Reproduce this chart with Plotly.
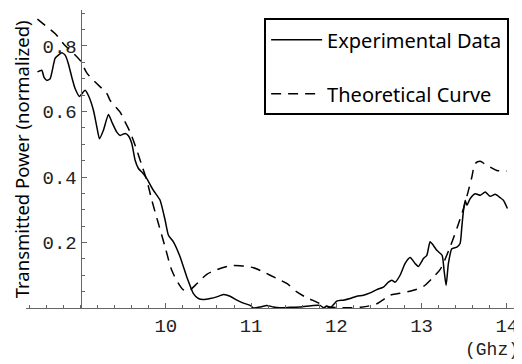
import plotly.graph_objects as go

# Experimental data (GHz, normalized power)
exp_x = [8.494, 8.545, 8.572, 8.604, 8.643, 8.701, 8.740, 8.780, 8.819, 8.857, 8.897, 8.936,
         8.987, 9.053, 9.092, 9.151, 9.191, 9.221, 9.268, 9.327, 9.367, 9.425, 9.464, 9.523,
         9.561, 9.601, 9.640, 9.679, 9.737, 9.777, 9.855, 9.933, 9.992, 10.031, 10.089, 10.168,
         10.246, 10.324, 10.382, 10.441, 10.520, 10.598, 10.676, 10.754, 10.833, 10.910, 10.989,
         11.028, 11.106, 11.185, 11.262, 11.341, 11.458, 11.575, 11.731, 11.810, 11.849, 11.889,
         11.927, 12.006, 12.083, 12.162, 12.240, 12.318, 12.397, 12.475, 12.553, 12.611, 12.651,
         12.690, 12.748, 12.807, 12.866, 12.924, 12.963, 13.022, 13.062, 13.100, 13.139, 13.179,
         13.241, 13.264, 13.288, 13.315, 13.355, 13.414, 13.452, 13.472, 13.492, 13.512, 13.532,
         13.570, 13.629, 13.688, 13.746, 13.805, 13.863, 13.922, 13.960, 14.007]
exp_y = [0.721, 0.726, 0.704, 0.695, 0.700, 0.762, 0.772, 0.779, 0.772, 0.746, 0.705, 0.670,
         0.646, 0.665, 0.649, 0.604, 0.553, 0.517, 0.543, 0.591, 0.568, 0.537, 0.527, 0.533,
         0.526, 0.502, 0.451, 0.426, 0.410, 0.395, 0.359, 0.329, 0.268, 0.222, 0.202, 0.156,
         0.095, 0.044, 0.029, 0.026, 0.029, 0.034, 0.041, 0.036, 0.024, 0.015, 0.008,
         0.000, 0.003, 0.008, 0.003, 0.001, 0.002, 0.003, 0.008, 0.008, 0.001, 0.005,
         0.000, 0.021, 0.024, 0.029, 0.036, 0.039, 0.046, 0.056, 0.064, 0.079, 0.085,
         0.079, 0.100, 0.136, 0.154, 0.136, 0.127, 0.151, 0.161, 0.202, 0.191, 0.176,
         0.161, 0.115, 0.069, 0.136, 0.181, 0.186, 0.197, 0.247, 0.298, 0.329, 0.314,
         0.334, 0.349, 0.344, 0.354, 0.341, 0.347, 0.337, 0.329, 0.304]

# Theoretical curve
th_x = [8.494, 8.584, 8.701, 8.799, 8.995, 9.073, 9.171, 9.308, 9.347, 9.464, 9.503, 9.581,
        9.660, 9.718, 9.777, 9.836, 9.913, 9.992, 10.070, 10.148, 10.203, 10.265, 10.344,
        10.481, 10.598, 10.754, 10.872, 11.028, 11.145, 11.302, 11.419, 11.537, 11.634,
        11.771, 11.849, 11.927, 12.045, 12.162, 12.279, 12.358, 12.475, 12.631, 12.728,
        12.904, 13.022, 13.139, 13.217, 13.334, 13.414, 13.492, 13.550, 13.590, 13.629,
        13.688, 13.746, 13.883, 14.000]
th_y = [0.882, 0.863, 0.838, 0.807, 0.756, 0.718, 0.690, 0.655, 0.634, 0.598, 0.578, 0.537,
        0.482, 0.436, 0.390, 0.329, 0.258, 0.186, 0.115, 0.075, 0.056, 0.052, 0.069,
        0.103, 0.117, 0.129, 0.129, 0.123, 0.110, 0.090, 0.075, 0.049, 0.034,
        0.018, 0.008, 0.003, 0.001, 0.001, 0.002, 0.005, 0.013, 0.039, 0.044,
        0.054, 0.066, 0.095, 0.117, 0.186, 0.243, 0.304, 0.359, 0.400, 0.441,
        0.448, 0.439, 0.420, 0.418]

x_ticks = [10, 11, 12, 13, 14]
y_ticks = [0.2, 0.4, 0.6, 0.8]
legend_names = ["Experimental Data", "Theoretical Curve"]

XMIN, XMAX = 8.36, 14.143
YMIN, YMAX = 0.0, 0.9099
MONO = "Liberation Mono"
SANS = "Noto Sans"

fig = go.Figure()
fig.add_trace(go.Scatter(x=exp_x, y=exp_y, mode="lines", name=legend_names[0],
                         legendgroup="a",
                         line=dict(color="black", width=1.5, shape="spline", smoothing=0.5)))
fig.add_trace(go.Scatter(x=th_x, y=th_y, mode="lines", name=legend_names[1],
                         legendgroup="b",
                         line=dict(color="black", width=1.5, dash="10px,7px",
                                   shape="spline", smoothing=0.8)))

# page body adds an 8px offset, so the figure is 8px smaller than the window
fig.update_layout(
    width=514, height=356,
    margin=dict(l=18, r=3, t=2, b=56),
    paper_bgcolor="white", plot_bgcolor="white",
    showlegend=True,
    legend=dict(x=0.483, y=0.972, xanchor="left", yanchor="top",
                bgcolor="white", bordercolor="black", borderwidth=2,
                font=dict(family=SANS, size=20, color="black"),
                tracegroupgap=25, itemwidth=51),
    xaxis=dict(range=[XMIN, XMAX], showgrid=False, zeroline=False,
               showline=True, linecolor="#666", linewidth=1,
               tickvals=x_ticks, ticktext=[str(v) for v in x_ticks],
               ticks="inside", ticklen=5, tickcolor="#666",
               minor=dict(dtick=0.2, tick0=8.4, ticks="inside", ticklen=3, tickcolor="#666"),
               tickfont=dict(family=MONO, size=19, color="#222")),
    yaxis=dict(range=[YMIN, YMAX], showgrid=False, zeroline=False,
               anchor="free", position=(9 - XMIN) / (XMAX - XMIN),
               showline=True, linecolor="#666", linewidth=1,
               tickvals=y_ticks, ticktext=["%.1f" % v for v in y_ticks],
               ticks="inside", ticklen=5, tickcolor="#666",
               minor=dict(dtick=0.05, tick0=0, ticks="inside", ticklen=3, tickcolor="#666"),
               tickfont=dict(family=MONO, size=19, color="#222")),
    annotations=[
        dict(text="(Ghz)", xref="paper", yref="paper", x=1.005, y=-0.142,
             xanchor="right", yanchor="middle", showarrow=False,
             font=dict(family=MONO, size=18, color="#222")),
        dict(text="Transmitted Power (normalized)", xref="paper", yref="paper",
             x=-0.0095, y=0.500, xanchor="center", yanchor="middle", textangle=-90,
             showarrow=False, font=dict(family=SANS, size=18.5, color="black")),
    ],
)

fig.write_html("out.html")
